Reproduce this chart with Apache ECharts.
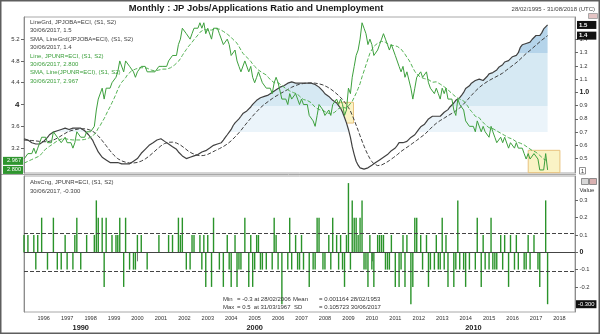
<!DOCTYPE html>
<html>
<head>
<meta charset="utf-8">
<script src="https://cdn.jsdelivr.net/npm/echarts@6/dist/echarts.min.js"></script>
<style>
  html, body { margin: 0; padding: 0; background: #ffffff; }
  #chart { width: 600px; height: 334px; }
</style>
</head>
<body>
<div id="chart"></div>
<script>
// ---- data -------------------------------------------------------------
// Monthly series, end-of-month, first plotted month = Feb 1995, last = Jun 2017.
const startYear = 1995;
const startMonth = 2;
const axisStart = '1995-02-28';
const axisEnd = '2018-08-31';

// Jobs/applications ratio (JPJOBA), Mar 1994 .. Jan 1995 (moving-average lead-in)
const jobsPrior = [0.66, 0.65, 0.64, 0.63, 0.63, 0.63, 0.63, 0.63, 0.64, 0.64, 0.65];
// Jobs/applications ratio (JPJOBA), Feb 1995 .. Jun 2017
const jobsRatio = [
  0.65, 0.65, 0.64, 0.63, 0.62, 0.61, 0.61, 0.61, 0.61, 0.62, 0.63,
  0.64, 0.66, 0.68, 0.69, 0.70, 0.70, 0.71, 0.71, 0.72, 0.72, 0.73, 0.73,
  0.72, 0.72, 0.73, 0.73, 0.73, 0.73, 0.73, 0.72, 0.71, 0.70, 0.68, 0.67,
  0.64, 0.61, 0.58, 0.55, 0.53, 0.51, 0.50, 0.49, 0.48, 0.47, 0.47, 0.47,
  0.47, 0.47, 0.47, 0.46, 0.46, 0.46, 0.46, 0.46, 0.47, 0.48, 0.49, 0.50,
  0.52, 0.54, 0.55, 0.57, 0.58, 0.60, 0.61, 0.62, 0.63, 0.64, 0.64, 0.65,
  0.65, 0.63, 0.62, 0.61, 0.60, 0.59, 0.58, 0.57, 0.55, 0.54, 0.52, 0.51,
  0.50, 0.50, 0.51, 0.51, 0.52, 0.53, 0.53, 0.54, 0.55, 0.56, 0.56, 0.57,
  0.58, 0.59, 0.60, 0.60, 0.61, 0.61, 0.62, 0.64, 0.66, 0.68, 0.70, 0.72,
  0.75, 0.77, 0.78, 0.80, 0.82, 0.84, 0.85, 0.86, 0.87, 0.89, 0.91, 0.92,
  0.94, 0.95, 0.96, 0.96, 0.97, 0.97, 0.98, 0.99, 1.00, 1.01, 1.02, 1.03,
  1.04, 1.05, 1.05, 1.06, 1.07, 1.07, 1.08, 1.08, 1.07, 1.07, 1.07, 1.07,
  1.07, 1.07, 1.07, 1.07, 1.07, 1.07, 1.06, 1.05, 1.04, 1.03, 1.01, 0.99,
  0.98, 0.97, 0.96, 0.94, 0.93, 0.92, 0.90, 0.88, 0.85, 0.81, 0.77, 0.72,
  0.66, 0.59, 0.53, 0.48, 0.45, 0.43, 0.42, 0.42, 0.43, 0.43, 0.44, 0.45,
  0.46, 0.47, 0.48, 0.49, 0.50, 0.51, 0.52, 0.53, 0.54, 0.56, 0.57, 0.58,
  0.60, 0.62, 0.63, 0.62, 0.62, 0.63, 0.64, 0.66, 0.67, 0.68, 0.70, 0.72,
  0.74, 0.75, 0.76, 0.78, 0.80, 0.81, 0.82, 0.82, 0.82, 0.81, 0.82, 0.83,
  0.85, 0.86, 0.87, 0.89, 0.90, 0.92, 0.94, 0.95, 0.96, 0.98, 1.00, 1.03,
  1.04, 1.05, 1.07, 1.08, 1.09, 1.10, 1.10, 1.10, 1.09, 1.10, 1.12, 1.14,
  1.14, 1.15, 1.15, 1.17, 1.19, 1.19, 1.21, 1.23, 1.24, 1.24, 1.25, 1.27,
  1.28, 1.28, 1.30, 1.34, 1.36, 1.37, 1.37, 1.37, 1.38, 1.40, 1.41, 1.43,
  1.43, 1.43, 1.45, 1.48, 1.49, 1.51
];

// Unemployment rate % (JPUNR), Mar 1994 .. Jan 1995 (lead-in for SMA and change)
const unempPrior = [2.9, 2.8, 2.9, 2.9, 3.0, 2.9, 3.0, 3.0, 2.9, 2.9, 2.9];
// Unemployment rate % (JPUNR), Feb 1995 .. Jun 2017
const unempRate = [
  3.0, 3.0, 3.1, 3.1, 3.1, 3.2, 3.1, 3.2, 3.2, 3.4, 3.4,
  3.4, 3.3, 3.3, 3.3, 3.5, 3.5, 3.4, 3.4, 3.3, 3.3, 3.4, 3.3,
  3.3, 3.3, 3.2, 3.3, 3.5, 3.5, 3.4, 3.4, 3.4, 3.5, 3.5, 3.5,
  3.5, 3.6, 3.9, 4.1, 4.1, 4.3, 4.1, 4.3, 4.3, 4.3, 4.4, 4.4,
  4.5, 4.6, 4.8, 4.8, 4.6, 4.8, 4.8, 4.7, 4.7, 4.6, 4.5, 4.6,
  4.6, 4.7, 4.7, 4.7, 4.6, 4.6, 4.6, 4.6, 4.6, 4.6, 4.7, 4.7,
  4.7, 4.7, 4.7, 4.8, 4.8, 4.9, 4.9, 4.9, 5.1, 5.2, 5.4, 5.4,
  5.3, 5.3, 5.2, 5.3, 5.4, 5.4, 5.4, 5.5, 5.4, 5.5, 5.3, 5.4,
  5.4, 5.2, 5.4, 5.4, 5.4, 5.3, 5.3, 5.1, 5.1, 5.2, 5.1, 4.9,
  4.9, 5.0, 4.8, 4.7, 4.6, 4.6, 4.8, 4.8, 4.6, 4.7, 4.5, 4.4,
  4.5, 4.6, 4.5, 4.4, 4.4, 4.3, 4.3, 4.3, 4.2, 4.4, 4.5, 4.4,
  4.4, 4.1, 4.1, 4.1, 4.0, 4.2, 4.1, 4.1, 4.2, 4.1, 4.0, 4.1,
  4.0, 4.0, 4.0, 3.8, 3.8, 3.7, 3.6, 3.8, 4.0, 4.0, 3.9, 3.8,
  3.8, 3.9, 3.8, 4.0, 4.0, 4.1, 4.0, 4.1, 4.0, 3.8, 3.9, 4.3,
  4.2, 4.5, 4.7, 4.9, 5.0, 5.2, 5.5, 5.4, 5.3, 5.1, 5.2, 5.1,
  4.9, 4.9, 5.0, 5.1, 5.2, 5.3, 5.2, 5.1, 5.0, 5.1, 5.1, 4.9,
  4.9, 4.7, 4.6, 4.7, 4.5, 4.6, 4.6, 4.3, 4.1, 4.3, 4.5, 4.5,
  4.6, 4.5, 4.5, 4.6, 4.4, 4.3, 4.3, 4.2, 4.3, 4.2, 4.1, 4.3,
  4.2, 4.3, 4.1, 4.1, 4.1, 3.9, 3.8, 4.1, 4.0, 4.0, 3.9, 3.7,
  3.7, 3.6, 3.6, 3.6, 3.5, 3.7, 3.7, 3.5, 3.6, 3.5, 3.5, 3.4,
  3.6, 3.5, 3.4, 3.3, 3.3, 3.4, 3.3, 3.4, 3.4, 3.2, 3.3, 3.3,
  3.2, 3.3, 3.2, 3.2, 3.2, 3.1, 3.0, 3.1, 3.0, 3.0, 3.1, 3.1,
  3.0, 2.8, 2.8, 2.8, 3.1, 2.8
];

// Study settings and statistics shown on the chart
const smaPeriod = 12;
const changeSD = 0.105723;
const statsLine1 = ['Min', '= -0.3 at 28/02/2006', 'Mean', '= 0.001164 28/02/1953'];
const statsLine2 = ['Max', '= 0.5  at 31/03/1967', 'SD', '= 0.105723 30/06/2017'];

// Tick labels
const leftTicks = [3.2, 3.6, 4, 4.4, 4.8, 5.2];
const rightTicks = [0.5, 0.6, 0.7, 0.8, 0.9, 1.0, 1.1, 1.2, 1.3, 1.4];
const changeTicks = [-0.2, -0.1, 0, 0.1, 0.2, 0.3];
const yearTicks = [1996, 1997, 1998, 1999, 2000, 2001, 2002, 2003, 2004, 2005, 2006,
                   2007, 2008, 2009, 2010, 2011, 2012, 2013, 2014, 2015, 2016, 2017, 2018];
const decadeBounds = [2000, 2010];

// Ratio levels where the gradient fill changes shade
const fillBands = [1.3, 0.9, 0.7];

// Highlighted ranges on the unemployment line: [start, end] date and rate
const highlightBoxes = [
  [['2007-02-24', 4.04], ['2009-03-20', 3.66]],
  [['2016-09-01', 3.16], ['2018-01-08', 2.75]]
];

// ---- derived studies ----------------------------------------------------
function monthEnd(i) {
  const m0 = startMonth - 1 + i;
  return Date.UTC(startYear, m0 + 1, 0);
}
function movingAverage(prior, vals, n) {
  const all = prior.concat(vals);
  return vals.map(function (_, i) {
    let s = 0;
    for (let k = 0; k < n; k++) s += all[prior.length + i - k];
    return s / n;
  });
}
function absChange(prior, vals) {
  return vals.map(function (v, i) {
    const prev = i === 0 ? prior[prior.length - 1] : vals[i - 1];
    return Math.round((v - prev) * 10) / 10;
  });
}
function ts(isoDate) { return Date.parse(isoDate + 'T00:00:00Z'); }

const dates = jobsRatio.map(function (_, i) { return monthEnd(i); });
const jobsSma = movingAverage(jobsPrior, jobsRatio, smaPeriod);
const unempSma = movingAverage(unempPrior, unempRate, smaPeriod);
const unempChange = absChange(unempPrior, unempRate);
const pair = function (arr) { return arr.map(function (v, i) { return [dates[i], v]; }); };

const last = dates.length - 1;
const lastD = new Date(dates[last]);
const lastLabel = String(lastD.getUTCDate()).padStart(2, '0') + '/' +
  String(lastD.getUTCMonth() + 1).padStart(2, '0') + '/' + lastD.getUTCFullYear();

// ---- layout ---------------------------------------------------------------
const FONT = '"Liberation Sans", Arial, Helvetica, sans-serif';
const upper = { left: 24, right: 25, top: 17, height: 156 };
const lower = { left: 24, right: 25, top: 176, height: 136 };
const leftRange = [2.744, 5.606];
const rightRange = [0.391, 1.57];
const changeRange = [-0.345, 0.441];
const xMin = ts(axisStart);
const xMax = ts(axisEnd);

// shaded fill under the ratio line (global gradient in pixel space)
const bandColors = ['#b5d4ea', '#d6e9f3', '#ebf4fa'];
const gradStops = [];
(function () {
  const span = rightRange[1] - rightRange[0];
  const off = function (v) { return (rightRange[1] - v) / span; };
  let prev = 0;
  fillBands.forEach(function (b, i) {
    gradStops.push({ offset: prev, color: bandColors[i] });
    gradStops.push({ offset: off(b), color: bandColors[i] });
    prev = off(b);
  });
  gradStops.push({ offset: prev, color: 'rgba(255,255,255,0)' });
  gradStops.push({ offset: 1, color: 'rgba(255,255,255,0)' });
})();
const areaGradient = new echarts.graphic.LinearGradient(
  0, upper.top, 0, upper.top + upper.height, gradStops, true);

const GREEN = '#3da03d';
const DARK = '#404040';
const axisGrey = '#8c8c8c';

function yearStart(y) { return Date.UTC(y, 0, 1); }
const decadeMarks = [xMin].concat(decadeBounds.map(yearStart), [xMax]);
const decadeCentres = [];
for (let i = 0; i < decadeMarks.length - 1; i++) decadeCentres.push((decadeMarks[i] + decadeMarks[i + 1]) / 2);

function textEl(x, y, text, opts) {
  opts = opts || {};
  return {
    type: 'text', x: x, y: y, z: 50, silent: true,
    style: {
      text: text, fill: opts.color || '#333',
      font: (opts.weight || 'normal') + ' ' + (opts.size || 6) + 'px ' + FONT,
      textAlign: opts.align || 'left', textVerticalAlign: 'middle'
    }
  };
}

const legendLines = [
  ['LineGrd, JPJOBA=ECI, (S1, S2)', DARK],
  [lastLabel + ', ' + jobsRatio[last].toFixed(1), DARK],
  ['SMA, LineGrd(JPJOBA=ECI), (S1, S2)', DARK],
  [lastLabel + ', ' + jobsSma[last].toFixed(1), DARK],
  ['Line, JPUNR=ECI, (S1, S2)', GREEN],
  [lastLabel + ', ' + unempRate[last].toFixed(3), GREEN],
  ['SMA, Line(JPUNR=ECI), (S1, S2)', GREEN],
  [lastLabel + ', ' + unempSma[last].toFixed(3), GREEN]
];

const graphics = [
  { type: 'rect', z: 60, silent: true, shape: { x: 0.75, y: 0.75, width: 598.5, height: 332.5 },
    style: { fill: 'none', stroke: '#5e5e5e', lineWidth: 1.5 } },
  { type: 'line', z: 40, silent: true, shape: { x1: 1, y1: 174.5, x2: 576, y2: 174.5 },
    style: { stroke: '#a8a8a8', lineWidth: 1 } },
  textEl(256, 8.5, 'Monthly : JP Jobs/Applications Ratio and Unemployment', { size: 9.4, weight: 'bold', color: '#1a1a1a', align: 'center' }),
  textEl(595, 9.5, '28/02/1995 - 31/08/2018 (UTC)', { size: 6, color: '#444', align: 'right' }),
  textEl(30, 182.5, 'AbsCng, JPUNR=ECI, (S1, S2)', { color: DARK }),
  textEl(30, 191, lastLabel + ', ' + unempChange[last].toFixed(3), { color: DARK }),
  textEl(223, 299, statsLine1[0], { color: '#333' }),
  textEl(237, 299, statsLine1[1], { color: '#333' }),
  textEl(293, 299, statsLine1[2], { color: '#333' }),
  textEl(319, 299, statsLine1[3], { color: '#333' }),
  textEl(223, 307.5, statsLine2[0], { color: '#333' }),
  textEl(237, 307.5, statsLine2[1], { color: '#333' }),
  textEl(294, 307.5, statsLine2[2], { color: '#333' }),
  textEl(319, 307.5, statsLine2[3], { color: '#333' }),
  textEl(587, 190.5, 'Value', { size: 6, color: '#333', align: 'center' }),
  // panel control icons
  { type: 'rect', z: 45, silent: true, shape: { x: 581.5, y: 178.5, width: 7, height: 6 },
    style: { fill: '#d7d7d7', stroke: '#777', lineWidth: 0.8 } },
  { type: 'rect', z: 45, silent: true, shape: { x: 589.5, y: 178.5, width: 7, height: 6 },
    style: { fill: '#d9b0b0', stroke: '#777', lineWidth: 0.8 } },
  { type: 'rect', z: 45, silent: true, shape: { x: 588.5, y: 13.5, width: 9, height: 5 },
    style: { fill: '#e3c3c3', stroke: '#999', lineWidth: 0.8 } },
  { type: 'rect', z: 45, silent: true, shape: { x: 579.5, y: 167.5, width: 6, height: 6.5 },
    style: { fill: '#fff', stroke: '#777', lineWidth: 0.8 } },
  textEl(582.5, 171, '1', { size: 5.5, color: '#333', align: 'center' })
];
legendLines.forEach(function (l, i) {
  graphics.push(textEl(30, 22.3 + i * 8.4, l[0], { color: l[1] }));
});

// ---- chart ----------------------------------------------------------------
const chart = echarts.init(document.getElementById('chart'), null, { renderer: 'canvas' });

const option = {
  animation: false,
  backgroundColor: '#ffffff',
  textStyle: { fontFamily: FONT },
  grid: [
    Object.assign({ show: true, borderColor: '#a8a8a8', borderWidth: 1, backgroundColor: 'transparent' }, upper),
    Object.assign({ show: true, borderColor: '#a8a8a8', borderWidth: 1, backgroundColor: 'transparent' }, lower)
  ],
  xAxis: [
    { type: 'value', gridIndex: 0, min: xMin, max: xMax, show: false, splitLine: { show: false } },
    {
      type: 'value', gridIndex: 1, min: xMin, max: xMax,
      axisLine: { show: true, lineStyle: { color: axisGrey, width: 1 } },
      axisTick: { show: false },
      splitLine: { show: false },
      axisLabel: {
        customValues: yearTicks.map(yearStart), margin: 3.5,
        color: '#333', fontFamily: FONT, fontSize: 5.6,
        formatter: function (v) { return String(new Date(v).getUTCFullYear()); }
      }
    },
    {
      type: 'value', gridIndex: 1, min: xMin, max: xMax, position: 'bottom', offset: 11,
      axisLine: { show: false },
      splitLine: { show: false },
      axisTick: { show: true, customValues: decadeBounds.map(yearStart), length: 9, lineStyle: { color: '#777' } },
      axisLabel: {
        customValues: decadeCentres, margin: 1.5,
        color: '#222', fontFamily: FONT, fontSize: 7.4, fontWeight: 'bold',
        formatter: function (v) { return String(Math.floor(new Date(v).getUTCFullYear() / 10) * 10); }
      }
    }
  ],
  yAxis: [
    { // unemployment scale, left
      type: 'value', gridIndex: 0, position: 'left', min: leftRange[0], max: leftRange[1],
      axisLine: { show: true, lineStyle: { color: axisGrey } },
      axisTick: { show: true, customValues: leftTicks, length: 3, lineStyle: { color: '#666' } },
      splitLine: { show: false },
      axisLabel: {
        customValues: leftTicks, margin: 4.5, fontSize: 6, color: '#333', fontFamily: FONT,
        formatter: function (v) { return v === 4 ? '{b|4}' : String(v); },
        rich: { b: { fontWeight: 'bold', fontSize: 8, color: '#222', fontFamily: FONT } }
      }
    },
    { // jobs ratio scale, right
      type: 'value', gridIndex: 0, position: 'right', min: rightRange[0], max: rightRange[1],
      axisLine: { show: true, lineStyle: { color: axisGrey } },
      axisTick: { show: true, customValues: rightTicks, length: 3, lineStyle: { color: '#666' } },
      splitLine: { show: false },
      axisLabel: {
        customValues: rightTicks, margin: 4.5, fontSize: 5.8, color: '#333', fontFamily: FONT,
        formatter: function (v) { return Math.abs(v - 1) < 1e-9 ? '{b|1.0}' : v.toFixed(1); },
        rich: { b: { fontWeight: 'bold', fontSize: 7, color: '#222', fontFamily: FONT } }
      }
    },
    { // latest unemployment values tag, left
      type: 'value', gridIndex: 0, position: 'left', min: leftRange[0], max: leftRange[1],
      axisLine: { show: false }, axisTick: { show: false }, splitLine: { show: false },
      axisLabel: {
        customValues: [unempSma[last], unempRate[last]], margin: 1,
        formatter: function (v) { return v.toFixed(3); },
        color: '#ffffff', fontFamily: FONT, fontSize: 5.6,
        backgroundColor: '#2f962f', padding: [1, 2, 1, 4], lineHeight: 6
      }
    },
    { // latest ratio values tag, right
      type: 'value', gridIndex: 0, position: 'right', min: rightRange[0], max: rightRange[1],
      axisLine: { show: false }, axisTick: { show: false }, splitLine: { show: false },
      axisLabel: {
        customValues: [jobsRatio[last], jobsSma[last]], margin: 2,
        formatter: function (v) { return v.toFixed(1); },
        color: '#ffffff', fontFamily: FONT, fontSize: 6, fontWeight: 'bold',
        backgroundColor: '#111', padding: [1, 9, 1, 2], lineHeight: 6
      }
    },
    { // monthly change scale, right
      type: 'value', gridIndex: 1, position: 'right', min: changeRange[0], max: changeRange[1],
      axisLine: { show: true, lineStyle: { color: axisGrey } },
      axisTick: { show: true, customValues: changeTicks, length: 3, lineStyle: { color: '#666' } },
      splitLine: { show: false },
      axisLabel: {
        customValues: changeTicks, margin: 4.5, fontSize: 5.8, color: '#333', fontFamily: FONT,
        formatter: function (v) { return Math.abs(v) < 1e-9 ? '{b|0}' : String(Math.round(v * 10) / 10); },
        rich: { b: { fontWeight: 'bold', fontSize: 7, color: '#222', fontFamily: FONT } }
      }
    },
    { // latest change tag, right
      type: 'value', gridIndex: 1, position: 'right', min: changeRange[0], max: changeRange[1],
      axisLine: { show: false }, axisTick: { show: false }, splitLine: { show: false },
      axisLabel: {
        customValues: [unempChange[last]], margin: 1,
        formatter: function (v) { return v.toFixed(3); },
        color: '#ffffff', fontFamily: FONT, fontSize: 5.8,
        backgroundColor: '#111', padding: [1, 2, 1, 2], lineHeight: 6
      }
    },
    { // plain left edge of the lower panel
      type: 'value', gridIndex: 1, position: 'left', min: changeRange[0], max: changeRange[1],
      axisLine: { show: true, lineStyle: { color: axisGrey } },
      axisTick: { show: false }, splitLine: { show: false }, axisLabel: { show: false }
    }
  ],
  series: [
    {
      name: 'LineGrd JPJOBA', type: 'line', xAxisIndex: 0, yAxisIndex: 1, z: 2,
      data: pair(jobsRatio), showSymbol: false, symbol: 'none',
      lineStyle: { color: DARK, width: 1.2 },
      areaStyle: { color: areaGradient, opacity: 1, origin: 'start' }
    },
    {
      name: 'SMA LineGrd JPJOBA', type: 'line', xAxisIndex: 0, yAxisIndex: 1, z: 3,
      data: pair(jobsSma), showSymbol: false, symbol: 'none',
      lineStyle: { color: DARK, width: 1, type: [4, 2] }
    },
    {
      name: 'Line JPUNR', type: 'line', xAxisIndex: 0, yAxisIndex: 0, z: 5,
      data: pair(unempRate), showSymbol: false, symbol: 'none',
      lineStyle: { color: GREEN, width: 1 },
      markArea: {
        silent: true,
        itemStyle: { color: 'rgba(248,238,172,0.7)', borderColor: '#e8c27e', borderWidth: 1 },
        data: highlightBoxes.map(function (b) {
          return [{ xAxis: ts(b[0][0]), yAxis: b[0][1] }, { xAxis: ts(b[1][0]), yAxis: b[1][1] }];
        })
      }
    },
    {
      name: 'SMA Line JPUNR', type: 'line', xAxisIndex: 0, yAxisIndex: 0, z: 4,
      data: pair(unempSma), showSymbol: false, symbol: 'none',
      lineStyle: { color: '#55b355', width: 1, type: [4, 2] }
    },
    {
      name: 'AbsCng JPUNR', type: 'bar', xAxisIndex: 1, yAxisIndex: 4, z: 3,
      data: pair(unempChange), barWidth: 1.4, itemStyle: { color: '#2a932a' },
      markLine: {
        silent: true, symbol: 'none', label: { show: false },
        data: [
          { yAxis: changeSD, lineStyle: { color: '#444', type: [4, 2], width: 1 } },
          { yAxis: -changeSD, lineStyle: { color: '#444', type: [4, 2], width: 1 } },
          { yAxis: 0, lineStyle: { color: '#444', type: 'solid', width: 1 } }
        ]
      }
    }
  ],
  graphic: graphics
};

chart.setOption(option);
</script>
</body>
</html>
